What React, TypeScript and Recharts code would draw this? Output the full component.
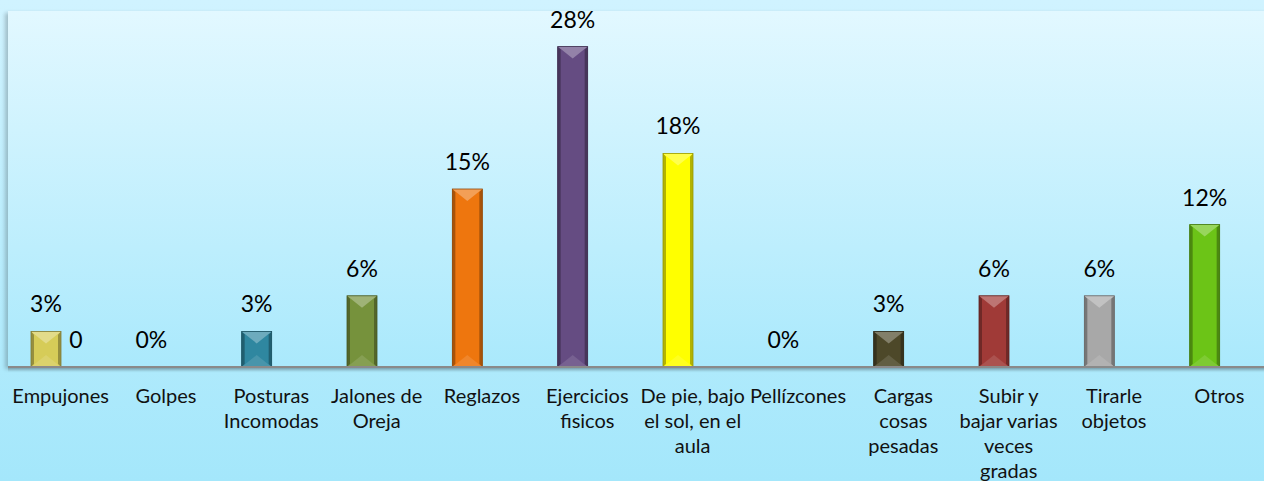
import { BarChart, Bar, XAxis, YAxis, Cell, LabelList } from "recharts";

const categories = [
  "Empujones",
  "Golpes",
  "Posturas\nIncomodas",
  "Jalones de\nOreja",
  "Reglazos",
  "Ejercicios\nfisicos",
  "De pie, bajo\nel sol, en el\naula",
  "Pellízcones",
  "Cargas\ncosas\npesadas",
  "Subir y\nbajar varias\nveces\ngradas",
  "Tirarle\nobjetos",
  "Otros",
];
const values = [3.03, 0, 3.03, 6.06, 15.15, 27.27, 18.18, 0, 3.03, 6.06, 6.06, 12.12];
const valueLabels = ["3%", "0%", "3%", "6%", "15%", "28%", "18%", "0%", "3%", "6%", "6%", "12%"];
const secondValues = [0, null, null, null, null, null, null, null, null, null, null, null];
const secondLabels = ["0", null, null, null, null, null, null, null, null, null, null, null];
const barColors = [
  "#d6cc58", "#4f81bd", "#2f87a0", "#76923c", "#ee760e", "#654c82",
  "#ffff00", "#8064a2", "#4d4829", "#a03a37", "#a8a8a8", "#6cc417",
];

const data = categories.map((name, i) => ({
  name,
  value: values[i],
  label: valueLabels[i],
  value2: secondValues[i],
  label2: secondLabels[i],
}));

const FONT = "Lato, 'Open Sans', sans-serif";

function shade(hex: string, amt: number) {
  const n = parseInt(hex.slice(1), 16);
  let r = (n >> 16) & 255, g = (n >> 8) & 255, b = n & 255;
  const t = amt < 0 ? 0 : 255;
  const p = Math.abs(amt);
  r = Math.round(r + (t - r) * p);
  g = Math.round(g + (t - g) * p);
  b = Math.round(b + (t - b) * p);
  return `rgb(${r},${g},${b})`;
}

function BevelBar(props: any) {
  const { x, y, width: w, height: h, fill } = props;
  if (!h || h <= 0) return null;
  const e = 3;
  const tri = Math.min(12, h / 2);
  return (
    <g>
      <rect x={x} y={y} width={w} height={h} fill={fill} />
      <polygon points={`${x},${y} ${x + e},${y + e} ${x + e},${y + h - e} ${x},${y + h}`} fill={shade(fill, -0.3)} />
      <polygon points={`${x + w},${y} ${x + w - e},${y + e} ${x + w - e},${y + h - e} ${x + w},${y + h}`} fill={shade(fill, -0.3)} />
      <polygon points={`${x},${y} ${x + w},${y} ${x + w / 2},${y + tri}`} fill={shade(fill, 0.3)} />
      <polygon points={`${x},${y + h} ${x + w},${y + h} ${x + w / 2},${y + h - tri}`} fill={shade(fill, 0.12)} />
      <rect x={x} y={y} width={w} height={h} fill="none" stroke={shade(fill, -0.4)} strokeWidth={0.8} />
    </g>
  );
}

function CategoryTick(props: any) {
  const { x, y, payload } = props;
  const lines = String(payload.value).split("\n");
  return (
    <text x={x} y={y + 36} textAnchor="middle" fontFamily={FONT} fontSize={20} fill="#111">
      {lines.map((l, i) => (
        <tspan key={i} x={x} dy={i === 0 ? 0 : 25}>{l}</tspan>
      ))}
    </text>
  );
}

function TopLabel(props: any) {
  const { x, y, width, value } = props;
  if (value === null || value === undefined) return null;
  return (
    <text x={x + width / 2} y={y - 19} textAnchor="middle" fontFamily={FONT} fontSize={23} fill="#000">
      {value}
    </text>
  );
}

export default function App() {
  return (
    <div
      style={{
        position: "relative",
        width: 1264,
        height: 481,
        overflow: "hidden",
        background: "linear-gradient(to bottom, #d0f3ff 0%, #a4e7fb 100%)",
      }}
    >
      <style>{"body{margin:0;overflow:hidden}"}</style>
      <div
        style={{
          position: "absolute",
          left: 8,
          top: 11,
          width: 1270,
          height: 356,
          background: "linear-gradient(to bottom, #e2f8ff 0%, #aae9fc 100%)",
          boxShadow: "-3px 2px 4px rgba(0,0,0,0.22)",
        }}
      />
      <div
        style={{
          position: "absolute",
          left: 8,
          top: 368,
          width: 1270,
          height: 4,
          background: "linear-gradient(to bottom, rgba(0,0,0,0.18), rgba(0,0,0,0))",
        }}
      />
      <div style={{ position: "absolute", left: 0, top: 0 }}>
        <BarChart
          width={1272}
          height={481}
          data={data}
          margin={{ top: 11, right: 0, left: 8, bottom: 0 }}
          barSize={30}
          barGap={0}
        >
          <XAxis
            dataKey="name"
            height={114}
            interval={0}
            tickLine={false}
            tickSize={0}
            tickMargin={0}
            axisLine={{ stroke: "#8a8a8a", strokeWidth: 2 }}
            tick={<CategoryTick />}
          />
          <YAxis hide domain={[0, 30.3]} />
          <Bar dataKey="value" shape={<BevelBar />} isAnimationActive={false}>
            {data.map((_, i) => (
              <Cell key={i} fill={barColors[i]} />
            ))}
            <LabelList dataKey="label" content={<TopLabel />} />
          </Bar>
          <Bar dataKey="value2" fill="#4f81bd" shape={<BevelBar />} isAnimationActive={false}>
            <LabelList dataKey="label2" content={<TopLabel />} />
          </Bar>
        </BarChart>
      </div>
    </div>
  );
}
